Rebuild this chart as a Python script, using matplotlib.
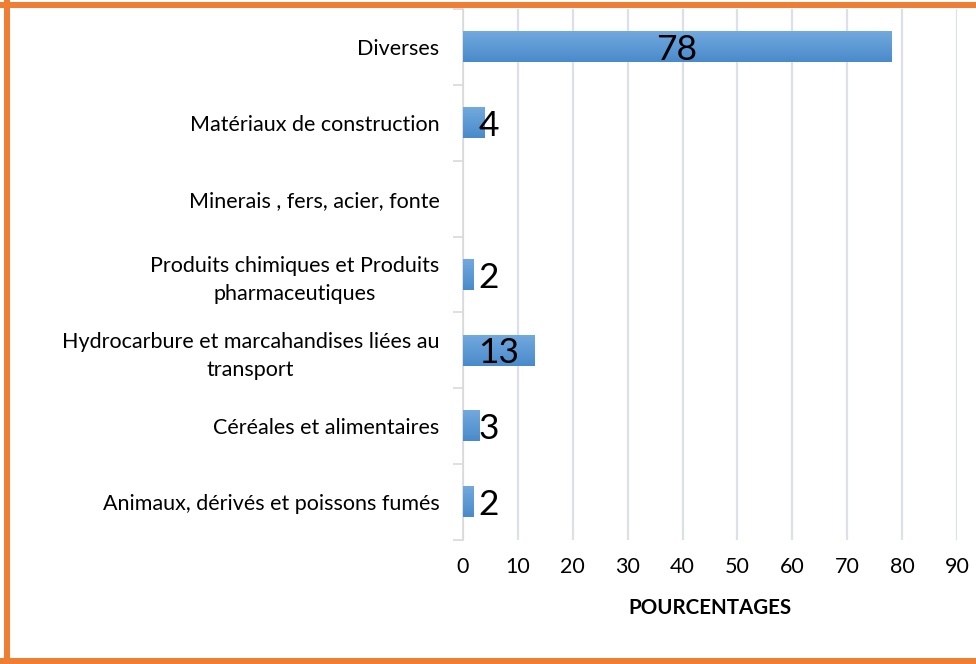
import numpy as np
import matplotlib
matplotlib.use("Agg")
import matplotlib.pyplot as plt
from matplotlib.lines import Line2D
from matplotlib.colors import LinearSegmentedColormap

categories = [
    "Diverses",
    "Matériaux de construction",
    "Minerais , fers, acier, fonte",
    "Produits chimiques et Produits\npharmaceutiques",
    "Hydrocarbure et marcahandises liées au\ntransport",
    "Céréales et alimentaires",
    "Animaux, dérivés et poissons fumés",
]
values = [78, 4, np.nan, 2, 13, 3, 2]
xticks = [0, 10, 20, 30, 40, 50, 60, 70, 80, 90]
xlabel = "POURCENTAGES"

plt.rcParams['font.family'] = ['Lato', 'DejaVu Sans']

W, H = 976, 664
fig = plt.figure(figsize=(W / 100, H / 100), dpi=100)
ax = fig.add_axes([463 / W, 1 - 540 / H, (957 - 463) / W, (540 - 9) / H])

y = np.arange(len(categories))
vals = np.array(values, dtype=float)
bar_h = 0.4
cmap = LinearSegmentedColormap.from_list("g", ["#72A9DE", "#4A8ACB"])
grad = np.linspace(0, 1, 64).reshape(-1, 1)
bars = ax.barh(y, np.nan_to_num(vals), height=bar_h, color="none", zorder=3)
for b in bars:
    w = b.get_width()
    if w <= 0:
        continue
    x0, y0 = b.get_x(), b.get_y()
    ax.imshow(grad, cmap=cmap, aspect="auto", extent=(x0, x0 + w, y0 + bar_h, y0),
              origin="upper", zorder=3, interpolation="bilinear")

for yi, v in zip(y, vals):
    if np.isnan(v):
        continue
    xpos = max(v / 2, 4.7)
    ax.text(xpos, yi + 0.04, f"{int(v)}", ha="center", va="center",
            fontsize=25.5, color="black", zorder=4)

ax.set_xlim(0, 90)
ax.set_ylim(len(categories) - 0.5, -0.5)
ax.set_xticks(xticks)
ax.set_xticklabels([str(t) for t in xticks], fontsize=15.5)
ax.tick_params(axis="x", length=0, pad=12)
ax.set_yticks(y)
ax.set_yticklabels(categories, fontsize=15.5, multialignment="center", linespacing=1.5)
ax.tick_params(axis="y", length=0, pad=17)
ax.set_yticks(np.arange(-0.5, len(categories), 1), minor=True)
ax.tick_params(axis="y", which="minor", length=7, color="#D9D9D9", width=1.2)

ax.grid(axis="x", color="#DCE1E8", linewidth=1.6, zorder=0)
for s in ["top", "right", "bottom"]:
    ax.spines[s].set_visible(False)
ax.spines["left"].set_color("#D9D9D9")
ax.spines["left"].set_linewidth(1.2)
ax.set_xlabel(xlabel, fontsize=14.8, fontweight="bold", labelpad=15)

orange = "#EF7D33"
lw = 6 * 72 / 100
fig.add_artist(Line2D([7 / W, 7 / W], [0, 1], transform=fig.transFigure, color=orange, lw=lw))
fig.add_artist(Line2D([0, 1], [1 - 5 / H, 1 - 5 / H], transform=fig.transFigure, color=orange, lw=lw))
fig.add_artist(Line2D([0, 1], [1 - 661 / H, 1 - 661 / H], transform=fig.transFigure, color=orange, lw=lw))

fig.savefig("out.png", dpi=100)
